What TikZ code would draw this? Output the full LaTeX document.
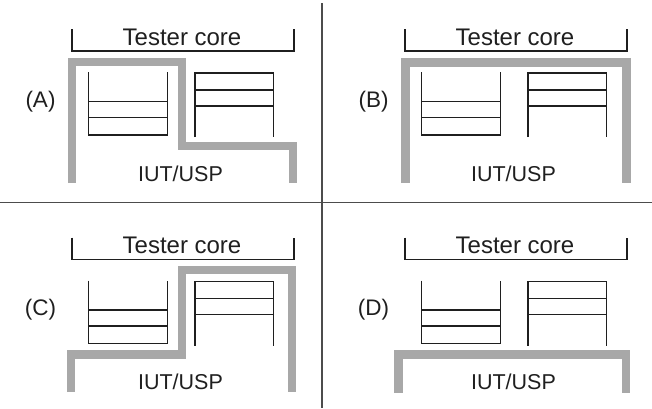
\documentclass[tikz,border=0pt]{standalone}
\usepackage{fontspec}
\setmainfont{Liberation Sans}
\definecolor{wallgray}{gray}{0.66}
\definecolor{inkgray}{gray}{0.12}
\tikzset{
  wall/.style={draw=wallgray, line width=8.7pt, line join=miter},
  queue/.style={draw=inkgray, line width=1.6pt, line join=miter},
  divider/.style={draw=black!70, line width=1.5pt},
  bracketline/.style={draw=inkgray, line width=1.6pt},
  caption/.style={inner sep=0pt, text=inkgray, font=\fontsize{22.5}{26}\selectfont},
}

\begin{document}
\begin{tikzpicture}[x=1pt, y=-1pt]
    \useasboundingbox (0,0) rectangle (652,408);
    % quadrant dividers
    \draw[divider] (0,202.5) -- (652,202.5);
    \draw[divider] (322,3) -- (322,408);

    % common parts of the four panels
    \foreach \p/\dx/\dy in {A/0/0, B/333/0, C/0/208.5, D/333/208.5} {
      \begin{scope}[shift={(\dx,\dy)}]
        \draw[bracketline] (72,29) -- (72,51) -- (294,51) -- (294,29);
        \node[caption, anchor=base, font=\fontsize{24}{28}\selectfont] (tester\p) at (182,45) {Tester core};
        \node[caption] (label\p) at (40.5,101.5) {(\p)};
        \node[caption, anchor=base, font=\fontsize{21.5}{26}\selectfont] (iut\p) at (180.5,181) {IUT/USP};
        % left queue, open at the top
        \draw[queue] (88.5,72) -- (88.5,135) -- (167.5,135) -- (167.5,72);
        \draw[queue] (88.5,101.5) -- (167.5,101.5);
        \draw[queue] (88.5,117.5) -- (167.5,117.5);
        % right queue, open at the bottom
        \draw[queue] (195,137) -- (195,73) -- (273.5,73) -- (273.5,137);
        \draw[queue] (195,90) -- (273.5,90);
        \draw[queue] (195,106) -- (273.5,106);
      \end{scope}
    }

    % gray boundary of each panel
    \draw[wall] (72,183) -- (72,62) -- (182,62) -- (182,146) -- (293,146) -- (293,183);
    \draw[wall] (405.5,183) -- (405.5,62.5) -- (626.5,62.5) -- (626.5,183);
    \draw[wall] (71,392) -- (71,354.5) -- (182,354.5) -- (182,270) -- (292,270) -- (292,392);
    \draw[wall] (398.5,392.5) -- (398.5,354.5) -- (626,354.5) -- (626,392.5);
\end{tikzpicture}
\end{document}
